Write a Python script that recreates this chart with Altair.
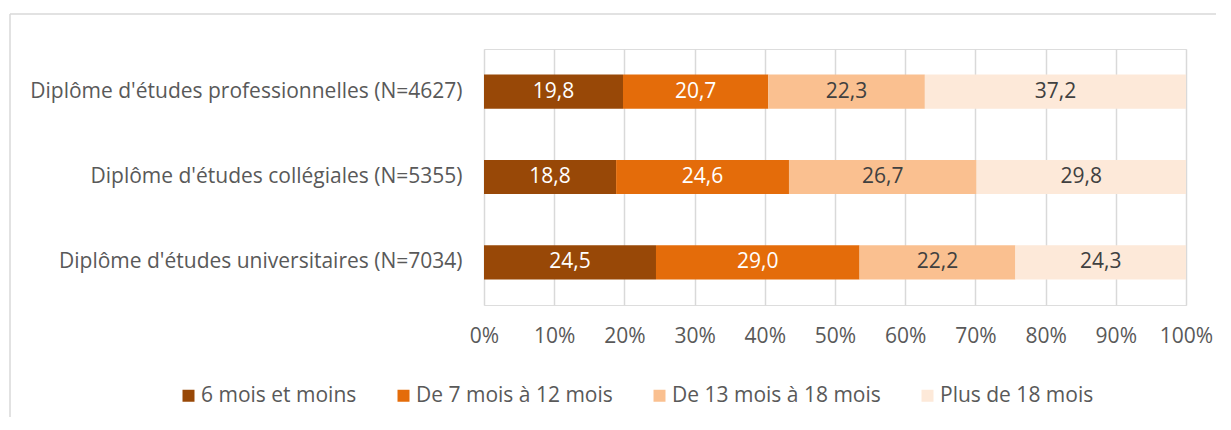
import altair as alt
import pandas as pd

categories = [
    "Diplôme d'études professionnelles (N=4627)",
    "Diplôme d'études collégiales (N=5355)",
    "Diplôme d'études universitaires (N=7034)",
]
series = ["6 mois et moins", "De 7 mois à 12 mois", "De 13 mois à 18 mois", "Plus de 18 mois"]
s1 = [19.8, 18.8, 24.5]
s2 = [20.7, 24.6, 29.0]
s3 = [22.3, 26.7, 22.2]
s4 = [37.2, 29.8, 24.3]
colors = ["#984807", "#E46C0A", "#FAC090", "#FDE9D9"]
tick_values = [0, 0.1, 0.2, 0.3, 0.4, 0.5, 0.6, 0.7, 0.8, 0.9, 1.0]

rows = []
for si, (name, vals) in enumerate(zip(series, [s1, s2, s3, s4])):
    for ci, cat in enumerate(categories):
        rows.append({"cat": cat, "serie": name, "ord": si, "value": vals[ci]})
df = pd.DataFrame(rows)

FONT = "Open Sans"
GREY = "#595959"
FS = 21

base = alt.Chart(df).transform_stack(
    stack="value", as_=["v0", "v1"], groupby=["cat"], offset="normalize",
    sort=[alt.SortField("ord", order="ascending")]
).transform_calculate(
    mid="(datum.v0 + datum.v1) / 2",
    label="replace(format(datum.value, '.1f'), '.', ',')",
)

yenc = alt.Y("cat:N", sort=categories, title=None,
             scale=alt.Scale(paddingInner=0.6, paddingOuter=0.3),
             axis=alt.Axis(domain=False, ticks=False, labelFontSize=FS, labelColor=GREY,
                           labelFont=FONT, labelPadding=22, labelLimit=0))

bars = base.mark_bar(strokeWidth=0).encode(
    x=alt.X("v0:Q", title=None, scale=alt.Scale(domain=[0, 1], nice=False),
            axis=alt.Axis(values=tick_values, format=".0%", domain=False, ticks=False,
                          grid=True, gridColor="#d9d9d9", gridWidth=1.5,
                          labelFontSize=FS, labelColor=GREY, labelFont=FONT,
                          labelFlush=False, labelPadding=20)),
    x2="v1:Q",
    y=yenc,
    color=alt.Color("serie:N", scale=alt.Scale(domain=series, range=colors),
                    legend=alt.Legend(orient="none", legendX=-306, legendY=336,
                                      direction="horizontal", title=None,
                                      symbolType="square", symbolSize=144,
                                      symbolStrokeWidth=0, symbolOpacity=1,
                                      labelFontSize=FS, labelColor=GREY, labelFont=FONT,
                                      labelLimit=0, columnPadding=36, labelOffset=2,
                                      padding=0)),
)

texts = base.mark_text(fontSize=FS, font=FONT).encode(
    x="mid:Q",
    y=alt.Y("cat:N", sort=categories),
    text="label:N",
    color=alt.condition("datum.ord < 2", alt.value("white"), alt.value("#404040")),
)

border_df = pd.DataFrame({"a": [0]})
top_line = alt.Chart(border_df).mark_rule(color="#d9d9d9", strokeWidth=1.5).encode(
    x=alt.value(-474), x2=alt.value(760), y=alt.value(-35))
left_line = alt.Chart(border_df).mark_rule(color="#d9d9d9", strokeWidth=1.5).encode(
    x=alt.value(-474), y=alt.value(-35), y2=alt.value(380))

chart = alt.layer(top_line, left_line, bars, texts).properties(
    width=702, height=256,
    autosize=alt.AutoSizeParams(type="none"),
    padding={"left": 476, "top": 41, "right": 30, "bottom": 112},
).configure_view(strokeWidth=0).configure(background="white")

chart.save("out.html", embed_options={"renderer": "svg", "actions": False})
